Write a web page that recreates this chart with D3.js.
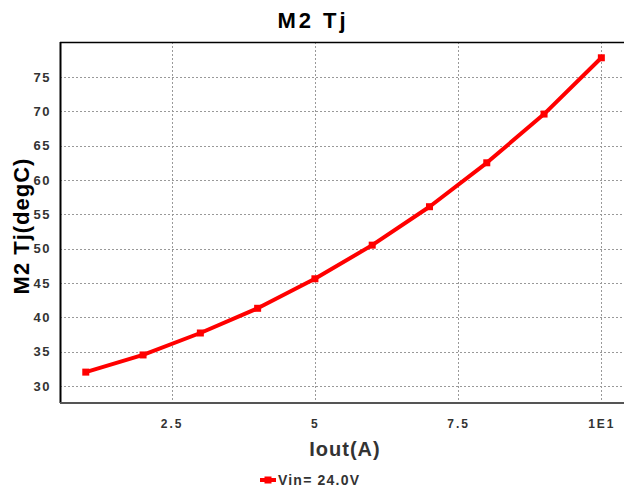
<!DOCTYPE html>
<html>
<head>
<meta charset="utf-8">
<script src="https://cdn.jsdelivr.net/npm/d3@7"></script>
<style>
  body { margin: 0; background: #fff; }
  svg { font-family: "Liberation Sans", Arial, sans-serif; }
  .grid line { stroke: #999; stroke-dasharray: 2,2; }
</style>
</head>
<body>
<svg class="chart"></svg>
<script>
// data
var iout = [1, 2, 3, 4, 5, 6, 7, 8, 9, 10];
var tj = [32.0, 34.5, 37.7, 41.3, 45.6, 50.5, 56.1, 62.5, 69.6, 77.8];
var xTicks = [2.5, 5, 7.5, 10];
var xTickLabels = ["2.5", "5", "7.5", "1E1"];
var yTicks = [30, 35, 40, 45, 50, 55, 60, 65, 70, 75];
var seriesName = "Vin= 24.0V";

var W = 624, H = 488;
var margin = {top: 42, right: -10, bottom: 85, left: 60},
    width = W - margin.left - margin.right,
    height = H - margin.top - margin.bottom;

var svg = d3.select('.chart')
  .attr('width', W)
  .attr('height', H);

var chart = svg.append('g')
  .attr('transform', 'translate(' + margin.left + ',' + margin.top + ')');

var x = d3.scaleLinear().domain([0.55, 10.57]).range([0, width]);
var y = d3.scaleLinear().domain([27.5, 80.1]).range([height, 0]);

// grid
chart.append('g').attr('class', 'grid')
  .selectAll('line').data(yTicks).enter().append('line')
  .attr('x1', 0).attr('x2', width)
  .attr('y1', function (d) { return Math.round(y(d)) + 0.5; })
  .attr('y2', function (d) { return Math.round(y(d)) + 0.5; });

chart.append('g').attr('class', 'grid')
  .selectAll('line').data(xTicks).enter().append('line')
  .attr('y1', 0).attr('y2', height)
  .attr('x1', function (d) { return Math.round(x(d)) + 0.5; })
  .attr('x2', function (d) { return Math.round(x(d)) + 0.5; });

// axes (labels only)
var yAxis = d3.axisLeft(y).tickValues(yTicks).tickSize(0).tickPadding(9);
var xAxis = d3.axisBottom(x).tickValues(xTicks).tickSize(0).tickPadding(16)
  .tickFormat(function (d, i) { return xTickLabels[i]; });

var gy = chart.append('g').call(yAxis);
var gx = chart.append('g').attr('transform', 'translate(0,' + height + ')').call(xAxis);
gy.selectAll('text').style('font-size', '13px').style('letter-spacing', '1.5px');
gx.selectAll('text').style('font-size', '12px').style('letter-spacing', '2px');
[gy, gx].forEach(function (g) {
  g.select('.domain').remove();
  g.selectAll('text')
    .style('font-weight', 'bold')
    .style('fill', '#333');
});

// frame
chart.append('line').attr('x1', 0).attr('x2', width).attr('y1', 0.5).attr('y2', 0.5)
  .attr('stroke', '#000').attr('stroke-width', 1.5);
chart.append('line').attr('x1', 0.5).attr('x2', 0.5).attr('y1', 0).attr('y2', height)
  .attr('stroke', '#000').attr('stroke-width', 2);
chart.append('line').attr('x1', 0).attr('x2', width).attr('y1', height).attr('y2', height)
  .attr('stroke', '#555').attr('stroke-width', 2);

// series
var pts = iout.map(function (d, i) { return [d, tj[i]]; });
var line = d3.line()
  .x(function (d) { return x(d[0]); })
  .y(function (d) { return y(d[1]); });

chart.append('path')
  .datum(pts)
  .attr('d', line)
  .attr('fill', 'none')
  .attr('stroke', '#ff0000')
  .attr('stroke-width', 4)
  .attr('stroke-linejoin', 'round');

chart.selectAll('rect.pt').data(pts).enter().append('rect')
  .attr('class', 'pt')
  .attr('x', function (d) { return x(d[0]) - 3.5; })
  .attr('y', function (d) { return y(d[1]) - 3.5; })
  .attr('width', 7).attr('height', 7)
  .attr('fill', '#ff0000');

// titles
svg.append('text')
  .attr('x', 313).attr('y', 28)
  .attr('text-anchor', 'middle')
  .style('font-size', '22px').style('font-weight', 'bold')
  .style('letter-spacing', '3px')
  .text('M2 Tj');

svg.append('text')
  .attr('transform', 'translate(29,226) rotate(-90)')
  .attr('text-anchor', 'middle')
  .style('font-size', '22px').style('font-weight', 'bold')
  .style('letter-spacing', '1px')
  .text('M2 Tj(degC)');

svg.append('text')
  .attr('x', 345).attr('y', 456)
  .attr('text-anchor', 'middle')
  .style('font-size', '20px').style('font-weight', 'bold')
  .style('letter-spacing', '1px')
  .style('fill', '#333')
  .text('Iout(A)');

// legend
var lg = svg.append('g').attr('transform', 'translate(260,480)');
lg.append('line').attr('x1', 0).attr('x2', 16).attr('y1', 0).attr('y2', 0)
  .attr('stroke', '#ff0000').attr('stroke-width', 4);
lg.append('rect').attr('x', 4.5).attr('y', -3.5).attr('width', 7).attr('height', 7)
  .attr('fill', '#ff0000');
lg.append('text').attr('x', 18).attr('y', 5)
  .style('font-size', '14px').style('font-weight', 'bold')
  .style('letter-spacing', '1.2px')
  .style('fill', '#333')
  .text(seriesName);
</script>
</body>
</html>
